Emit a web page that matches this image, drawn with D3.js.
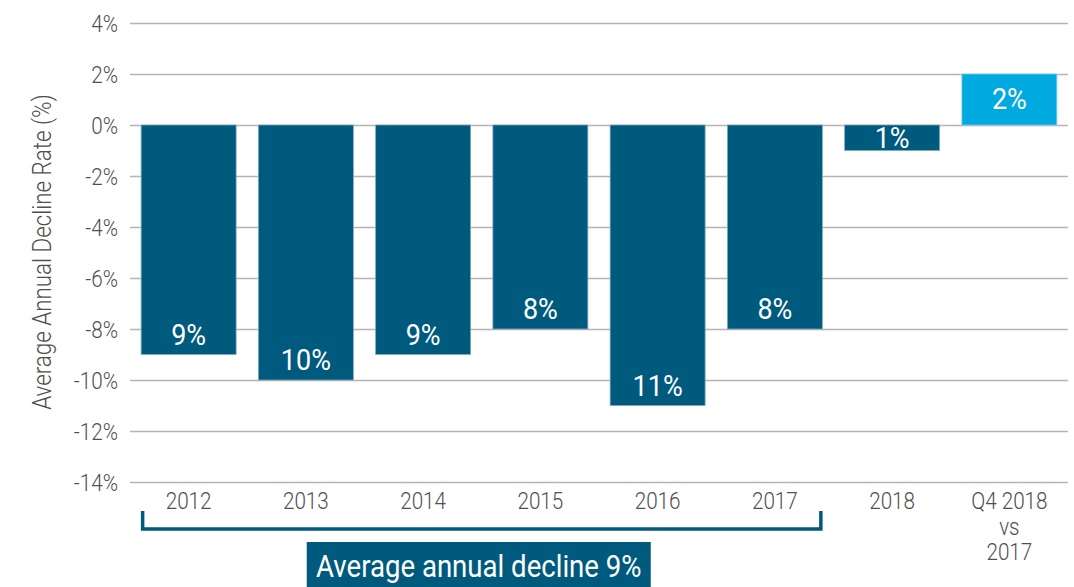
<!DOCTYPE html>
<html>
<head>
<meta charset="utf-8">
<script src="https://cdn.jsdelivr.net/npm/d3@7"></script>
<style>
  html, body { margin: 0; padding: 0; background: #fff; }
  svg { display: block; }
  text { font-family: Roboto, "Liberation Sans", sans-serif; }
  .thin { font-weight: 300; }
</style>
</head>
<body>
<svg id="chart" width="1074" height="587"></svg>
<script>
// Average annual decline rate by period
const categories = ["2012", "2013", "2014", "2015", "2016", "2017", "2018", "Q4 2018 vs 2017"];
const categoryLines = [["2012"], ["2013"], ["2014"], ["2015"], ["2016"], ["2017"], ["2018"], ["Q4 2018", "vs", "2017"]];
const values = [-9, -10, -9, -8, -11, -8, -1, 2];
const valueLabels = ["9%", "10%", "9%", "8%", "11%", "8%", "1%", "2%"];
const yTicks = [4, 2, 0, -2, -4, -6, -8, -10, -12, -14];
const bracketFrom = "2012", bracketTo = "2017";
const bracketLabel = "Average annual decline 9%";
const yTitle = "Average Annual Decline Rate (%)";

const dark = "#005a7e", light = "#00a9e0", grey = "#4f4f4f";

const svg = d3.select("#chart");

const x = d3.scaleBand().domain(categories).range([130, 1068])
  .paddingInner(0.19).paddingOuter(0.095);
const y = d3.scaleLinear().domain([-14, 4]).range([482, 23]);

// text with horizontally narrowed glyphs (condensed look)
function condensedText(sel, tx, ty, size, squeeze, anchor, fill, str) {
  return sel.append("text")
    .attr("transform", `translate(${tx},${ty}) scale(${squeeze},1)`)
    .attr("text-anchor", anchor)
    .attr("font-size", size)
    .attr("fill", fill)
    .text(str);
}

// gridlines + tick labels
const yAxis = d3.axisLeft(y).tickValues(yTicks).tickSize(0).tickFormat(d => d + "%");
const gy = svg.append("g").attr("transform", "translate(130,0)").call(yAxis);
gy.select(".domain").remove();
gy.selectAll(".tick text").remove();
gy.selectAll(".tick").each(function(d) {
  const t = d3.select(this);
  t.append("line").attr("x1", 0).attr("x2", 1068 - 130)
    .attr("stroke", "#b5b5b5").attr("stroke-width", 1.3);
  condensedText(t, -12, 8, 23.5, 0.88, "end", grey, d + "%").attr("class", "thin");
});

// y title
svg.append("text")
  .attr("class", "thin")
  .attr("transform", `translate(51,252) rotate(-90) scale(0.86,1)`)
  .attr("text-anchor", "middle")
  .attr("font-size", 26)
  .attr("fill", grey)
  .text(yTitle);

// bars
const bars = svg.append("g");
categories.forEach((c, i) => {
  const v = values[i];
  const y0 = y(Math.max(0, v)), y1 = y(Math.min(0, v));
  bars.append("rect")
    .attr("x", x(c)).attr("y", y0)
    .attr("width", x.bandwidth()).attr("height", y1 - y0)
    .attr("fill", v >= 0 ? light : dark)
    .attr("stroke", v >= 0 ? "#7fd0ee" : "#7fa8bf").attr("stroke-width", 0.8);
  const cx = x(c) + x.bandwidth() / 2;
  const ly = v < 0 ? Math.max(y1 - 10, y0 + 23) : y0 + 35;
  condensedText(bars, cx, ly, 30, 0.9, "middle", "#ffffff", valueLabels[i]);
});

// category labels
categories.forEach((c, i) => {
  const cx = x(c) + x.bandwidth() / 2;
  categoryLines[i].forEach((ln, k) => {
    condensedText(svg, cx, 509 + k * 25.5, 23.5, 0.88, "middle", grey, ln).attr("class", "thin");
  });
});

// bracket spanning 2012-2017
const bx0 = x(bracketFrom) + 1.5, bx1 = x(bracketTo) + x.bandwidth() - 1.5;
svg.append("path")
  .attr("d", `M${bx0},511 V529 H${bx1} V511`)
  .attr("fill", "none").attr("stroke", dark).attr("stroke-width", 3.5);

const bmid = (bx0 + bx1) / 2 - 3;
svg.append("rect")
  .attr("x", bmid - 172).attr("y", 542).attr("width", 344).attr("height", 50)
  .attr("fill", dark);
condensedText(svg, bmid, 577, 31, 0.89, "middle", "#ffffff", bracketLabel);
</script>
</body>
</html>
